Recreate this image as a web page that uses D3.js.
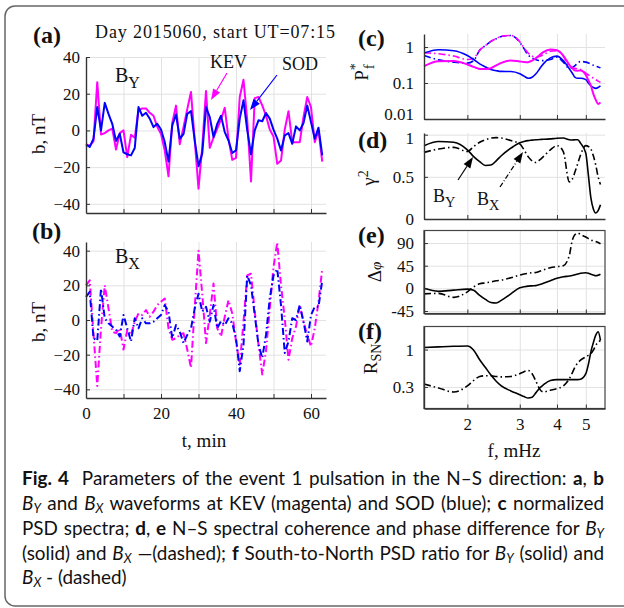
<!DOCTYPE html>
<html lang="en">
<head>
<meta charset="UTF-8">
<title>Event 1 pulsation</title>
<script src="https://cdn.jsdelivr.net/npm/d3@7/dist/d3.min.js"></script>
<style>
    body { margin: 0; background: #fff; }
    text { font-family: "Liberation Serif", "Times New Roman", serif; fill: #111; }
    .cap text { font-family: Lato, "Open Sans", sans-serif; }
</style>
</head>
<body>
<script>
    // waveforms, one sample per minute
    var minutes = d3.range(0, 64);
    var byKEV = [-7.5, -8.5, -5.8, 26.3, -2.2, -1.5, 0, 1, -10.4, -1.5, 0, -14.5, -2.4, -4, 11, 12,
        12, 9.6, 8, 2, -2, -11, -25, 4, 13.5, -7.5, 1.8, 11.6, 20.9, -5.5, -31.8, -9,
        21.5, -9.5, -4, 1, 6, 12.3, -4.5, -16, -15, 18.2, 27.6, 5.5, -27.8, 17.6, 18.2, 13.6,
        8, 0.5, -3.3, -18.2, -16.4, 0.5, 10.5, -6.4, -6.4, -6.4, 7.3, 18.2, 12.7, -6.4, 0, -17];
    var bySOD = [-7.8, -9, -4.5, 12.7, 0, 15, 9, 3.6, -5.8, -1.8, -12, -13, -13.6, -9.6, 12.7, 8,
        9.6, 6.4, 1.8, 3.6, 0.5, -6.4, -17, 2.7, 8.7, -4.5, -2, 9, 10.5, -5.5, -19.5, -12.5,
        12.7, 7.3, -3.6, 3.6, 8, -0.9, -5.5, -12.3, -10.9, 6.4, 16.4, 0, -13, 0, 5.5, 5,
        9.5, 6.4, 0.4, -4.5, -10.9, -2.7, -1.5, -7.3, 2.2, 0, 4, 13.6, 4.5, -4.5, 1.5, -13.6];
    var bxKEV = [20, 22.9, -8, -38, -5, 20, 6.7, -6.7, -7.6, -4.8, -17, -5.7, -8.6, -1, 3.8, 2.9,
        5.7, 1.9, 4.8, 8.6, 10.5, 12.4, -4.8, -11.4, -10.5, -8.6, -7.6, -17, -27.6, 7.6, 40, 15,
        -13.3, 2.9, 21, -4.8, -9.5, 1.9, 11.4, 3.8, -12.4, -25.7, -1, 25.7, 26.7, 4.8, -14.3, -31.4,
        -18, 6.7, 30.5, 44.8, 20, 1, -22.9, -10.5, -3.8, 8.6, -1, -8.6, -15.2, -4.8, 10.5, 29.5];
    var bxSOD = [13.3, 16.2, -10.5, -12, 18, 1, -1.9, -3.8, -5.7, -9.5, 2.9, -4.8, -12.4, 1, -4.8, 1,
        -1.9, -1.9, -1, 1, 2.9, 8.6, 4.8, -10.5, -2.9, -6.7, -13.3, -8.6, -4.8, 6.7, 15.2, 4.8,
        7.6, -1, 8.6, -4.8, -0.6, -2.9, 1, -1.9, -10.5, -29.5, -14.3, 25.7, 20, 2.9, -14.3, -21.9,
        -8.6, 12.4, 25.7, 29.5, 8.6, -19, -12.4, 1, 0, 8.6, -1, -12.4, 2.9, 7.6, 7.6, 22.9];

    // spectra, frequency in mHz
    var freqs = [1.43, 1.6, 1.8, 2.0, 2.1, 2.2, 2.3, 2.4, 2.5, 2.6, 2.8, 3.0, 3.1, 3.2, 3.3, 3.4, 3.5,
        3.6, 3.8, 4.0, 4.2, 4.4, 4.5, 4.6, 4.7, 4.8, 5.0, 5.1, 5.2, 5.3, 5.4, 5.5, 5.6];
    var psdSodY = [0.68, 0.84, 0.79, 0.58, 0.45, 0.34, 0.28, 0.236, 0.22, 0.21, 0.208, 0.18, 0.155, 0.135, 0.145, 0.18, 0.25,
        0.34, 0.5, 0.56, 0.42, 0.25, 0.19, 0.144, 0.135, 0.135, 0.124, 0.1, 0.084, 0.075, 0.071, 0.075, 0.084];
    var psdKevY = [0.293, 0.405, 0.41, 0.327, 0.28, 0.247, 0.245, 0.258, 0.31, 0.364, 0.423, 0.396, 0.385, 0.38, 0.42, 0.49, 0.6,
        0.724, 0.86, 0.81, 0.58, 0.32, 0.26, 0.222, 0.22, 0.222, 0.168, 0.12, 0.084, 0.05, 0.034, 0.026, 0.029];
    var psdSodX = [0.58, 0.44, 0.38, 0.356, 0.42, 0.81, 1.1, 1.44, 1.7, 1.95, 2.08, 1.35, 0.9, 0.6, 0.5, 0.44, 0.42,
        0.42, 0.45, 0.52, 0.38, 0.258, 0.27, 0.306, 0.36, 0.396, 0.38, 0.36, 0.334, 0.31, 0.293, 0.28, 0.263];
    var psdKevX = [0.69, 0.65, 0.56, 0.45, 0.49, 0.81, 1.1, 1.44, 1.7, 1.99, 2.1, 1.4, 0.95, 0.68, 0.56, 0.52, 0.55,
        0.61, 0.76, 0.79, 0.56, 0.293, 0.27, 0.258, 0.245, 0.236, 0.187, 0.168, 0.15, 0.137, 0.124, 0.113, 0.104];
    var cohY = [0.87, 0.92, 0.91, 0.82, 0.74, 0.68, 0.635, 0.64, 0.69, 0.75, 0.84, 0.905, 0.92, 0.93, 0.935, 0.94, 0.943,
        0.945, 0.95, 0.958, 0.96, 0.94, 0.937, 0.94, 0.94, 0.9, 0.78, 0.52, 0.25, 0.12, 0.072, 0.1, 0.168];
    var cohX = [0.79, 0.83, 0.85, 0.80, 0.86, 0.91, 0.94, 0.96, 0.965, 0.96, 0.93, 0.89, 0.82, 0.74, 0.69, 0.67, 0.7,
        0.74, 0.82, 0.87, 0.80, 0.44, 0.47, 0.56, 0.66, 0.76, 0.87, 0.86, 0.83, 0.75, 0.64, 0.5, 0.41];
    var phaseY = [0, -6, -3.5, -1.5, -4, -14, -22, -28, -29, -24, -11, 1, 3, 4.5, 5, 5.5, 7.5,
        10, 15, 20, 23, 24.5, 25.5, 27, 28.5, 30, 31, 30, 28, 26.5, 25, 26, 28];
    var phaseX = [-11, -10, -18, -7, 3, 9, 11, 13, 15, 16.5, 21, 26.5, 28.5, 30, 31, 31.5, 34,
        36.5, 41, 43, 45, 65, 95, 107, 110, 107, 102, 99, 96, 94.5, 93, 91, 88.5];
    var ratioY = [1.07, 1.09, 1.11, 1.12, 0.98, 0.72, 0.56, 0.44, 0.36, 0.31, 0.264, 0.234, 0.22, 0.21, 0.215, 0.25, 0.29,
        0.32, 0.37, 0.38, 0.38, 0.38, 0.38, 0.38, 0.38, 0.385, 0.46, 0.62, 0.93, 1.25, 1.59, 1.77, 1.35];
    var ratioX = [0.33, 0.29, 0.255, 0.31, 0.37, 0.42, 0.43, 0.43, 0.42, 0.415, 0.42, 0.46, 0.49, 0.51, 0.46, 0.36, 0.28,
        0.255, 0.27, 0.285, 0.31, 0.39, 0.47, 0.57, 0.65, 0.71, 0.79, 0.83, 0.88, 0.98, 1.15, 1.25, 1.35];

    var magenta = "#ff00ff", blue = "#0000ff";
    var dashDot = "7,3,1.5,3";

    var svg = d3.select("body").append("svg")
        .attr("width", 624)
        .attr("height", 608);

    // outer figure frame
    svg.append("rect")
        .attr("x", 5).attr("y", 6)
        .attr("width", 650).attr("height", 600)
        .attr("rx", 10)
        .attr("fill", "none")
        .attr("stroke", "#666")
        .attr("stroke-width", 1.5);

    var xT = d3.scaleLinear().domain([0, 64]).range([86, 326]);
    var yA = d3.scaleLinear().domain([-45, 40]).range([213, 57]);
    var yB = d3.scaleLinear().domain([-45, 45]).range([398, 242]);

    var xF = d3.scaleLog().domain([1.43, 5.8]).range([424, 605]);
    var yC = d3.scaleLog().domain([0.01, 2.3]).range([119, 34]);
    var yD = d3.scaleLinear().domain([0, 1.02]).range([219, 133]);
    var yE = d3.scaleLinear().domain([-50, 115]).range([313.5, 230.5]);
    var yF = d3.scaleLog().domain([0.15, 2.1]).range([408.5, 326.5]);

    function panel(x, y, xt, yt, xfmt, yfmt, boxed) {
        var g = svg.append("g");
        var x0 = x.range()[0], x1 = x.range()[1];
        var y0 = y.range()[0], y1 = y.range()[1];
        // grid
        g.append("g")
            .attr("transform", "translate(0," + y0 + ")")
            .call(d3.axisBottom(x).tickValues(xt).tickSize(y1 - y0).tickFormat(""))
            .call(function (s) { s.select(".domain").remove(); s.selectAll("line").attr("stroke", "#e2e2e2"); });
        g.append("g")
            .attr("transform", "translate(" + x0 + ",0)")
            .call(d3.axisLeft(y).tickValues(yt).tickSize(x0 - x1).tickFormat(""))
            .call(function (s) { s.select(".domain").remove(); s.selectAll("line").attr("stroke", "#e2e2e2"); });
        if (boxed) {
            g.append("rect")
                .attr("x", x0).attr("y", y1)
                .attr("width", x1 - x0).attr("height", y0 - y1)
                .attr("fill", "none").attr("stroke", "#444").attr("stroke-width", 1.2);
        }
        var lines = svg.append("g");
        var ax = svg.append("g");
        ax.append("g")
            .attr("transform", "translate(0," + y0 + ")")
            .call(d3.axisBottom(x).tickValues(xt).tickSizeInner(-4).tickSizeOuter(0).tickPadding(9).tickFormat(xfmt))
            .call(styleAxis);
        ax.append("g")
            .attr("class", "yaxis")
            .attr("transform", "translate(" + x0 + ",0)")
            .call(d3.axisLeft(y).tickValues(yt).tickSizeInner(-4).tickSizeOuter(0).tickPadding(yfmt.pad).tickFormat(yfmt.f))
            .call(styleAxis);
        lines.axis = ax;
        return lines;
    }

    function styleAxis(s) {
        s.select(".domain").attr("stroke", "#333").attr("stroke-width", 1.4);
        s.selectAll(".tick line").attr("stroke", "#333");
        s.selectAll(".tick text")
            .attr("font-family", '"Liberation Serif", serif')
            .attr("font-size", 17)
            .attr("fill", "#111");
    }

    function series(g, xs, ys, x, y, color, dash, width, curve) {
        g.append("path")
            .datum(ys)
            .attr("fill", "none")
            .attr("stroke", color)
            .attr("stroke-width", width)
            .attr("stroke-dasharray", dash)
            .attr("stroke-linejoin", "round")
            .attr("d", d3.line()
                .curve(curve)
                .x(function (d, i) { return x(xs[i]); })
                .y(function (d) { return y(d); }));
    }

    var tTicks = [0, 10, 20, 30, 40, 50, 60];
    var noLabel = function () { return ""; };
    var tLabel = function (d) { return d % 20 === 0 ? d : ""; };
    var plain = function (d) { return d; };

    // (a) BY waveforms
    var gA = panel(xT, yA, tTicks, [-40, -20, 0, 20, 40], noLabel, {f: d3.format("d"), pad: 6});
    series(gA, minutes, byKEV, xT, yA, magenta, null, 2, d3.curveLinear);
    series(gA, minutes, bySOD, xT, yA, blue, null, 2, d3.curveLinear);

    // (b) BX waveforms
    var gB = panel(xT, yB, tTicks, [-40, -20, 0, 20, 40], tLabel, {f: d3.format("d"), pad: 6});
    series(gB, minutes, bxKEV, xT, yB, magenta, dashDot, 2, d3.curveLinear);
    series(gB, minutes, bxSOD, xT, yB, blue, dashDot, 2, d3.curveLinear);

    var fTicks = [2, 3, 4, 5];
    var smooth = d3.curveMonotoneX;

    // (c) normalized PSD
    var gC = panel(xF, yC, fTicks, [0.01, 0.1, 1], noLabel, {f: plain, pad: 10});
    series(gC, freqs, psdSodX, xF, yC, blue, dashDot, 1.6, smooth);
    series(gC, freqs, psdKevX, xF, yC, magenta, dashDot, 1.6, smooth);
    series(gC, freqs, psdSodY, xF, yC, blue, null, 1.6, smooth);
    series(gC, freqs, psdKevY, xF, yC, magenta, null, 2, smooth);
    // lift the bottom label a little so it clears panel (d)
    gC.axis.select(".yaxis").selectAll(".tick text")
        .filter(function (d) { return d === 0.01; })
        .attr("dy", "0.05em");

    // (d) coherence
    var gD = panel(xF, yD, fTicks, [0, 0.5, 1], noLabel, {f: plain, pad: 10});
    series(gD, freqs, cohX, xF, yD, "#000", dashDot, 1.6, smooth);
    series(gD, freqs, cohY, xF, yD, "#000", null, 1.6, smooth);
    gD.axis.select(".yaxis").selectAll(".tick text")
        .filter(function (d) { return d === 1; })
        .attr("dy", "0.5em");

    // (e) phase difference
    var gE = panel(xF, yE, fTicks, [-45, 0, 45, 90], noLabel, {f: plain, pad: 10}, true);
    series(gE, freqs, phaseX, xF, yE, "#000", dashDot, 1.6, smooth);
    series(gE, freqs, phaseY, xF, yE, "#000", null, 1.6, smooth);

    // (f) south-to-north ratio
    var gF = panel(xF, yF, fTicks, [0.3, 1], plain, {f: plain, pad: 10}, true);
    series(gF, freqs, ratioX, xF, yF, "#000", dashDot, 1.6, smooth);
    series(gF, freqs, ratioY, xF, yF, "#000", null, 1.6, smooth);

    // text labels
    function label(x, y, str, size, weight) {
        return svg.append("text")
            .attr("x", x).attr("y", y)
            .attr("font-size", size)
            .attr("font-weight", weight || "normal")
            .text(str);
    }
    function subLabel(x, y, main, sub, size) {
        var t = svg.append("text").attr("x", x).attr("y", y).attr("font-size", size);
        t.append("tspan").text(main);
        t.append("tspan").attr("dy", size * 0.3).attr("font-size", size * 0.8).text(sub);
        return t;
    }

    label(33, 43, "(a)", 24, "bold");
    label(32, 239, "(b)", 24, "bold");
    label(358, 46, "(c)", 24, "bold");
    label(358, 148, "(d)", 24, "bold");
    label(358, 243, "(e)", 24, "bold");
    label(358, 339, "(f)", 24, "bold");

    label(95, 38, "Day 2015060, start UT=07:15", 18).attr("textLength", 240);
    subLabel(115, 82, "B", "Y", 20);
    subLabel(115, 263, "B", "X", 20);
    label(210, 68, "KEV", 18);
    label(282, 70, "SOD", 18);
    subLabel(433, 202, "B", "Y", 18);
    subLabel(477, 205, "B", "X", 18);

    label(204, 447, "t, min", 19).attr("text-anchor", "middle");
    label(514, 457, "f, mHz", 19).attr("text-anchor", "middle");

    function vLabel(x, y) {
        return svg.append("text")
            .attr("transform", "translate(" + x + "," + y + ") rotate(-90)")
            .attr("text-anchor", "middle")
            .attr("font-size", 19);
    }
    vLabel(45, 134).text("b, nT");
    vLabel(45, 322).text("b, nT");

    var pf = vLabel(368, 72);
    pf.append("tspan").text("P");
    pf.append("tspan").attr("dy", -8).attr("font-size", 14).text("*");
    pf.append("tspan").attr("dx", -6).attr("dy", 14).attr("font-size", 15).text("f");

    var gm = vLabel(375, 178);
    gm.append("tspan").text("\u03b3");
    gm.append("tspan").attr("dy", -7).attr("font-size", 14).text("2");

    var dp = vLabel(381, 272);
    dp.append("tspan").text("\u0394");
    dp.append("tspan").attr("font-style", "italic").attr("font-size", 15).text("\u03c6");

    var rs = vLabel(377, 359);
    rs.append("tspan").text("R");
    rs.append("tspan").attr("dy", 4).attr("font-size", 14).text("SN");

    // arrows
    function arrow(x1, y1, x2, y2, color, dash, w) {
        var ang = Math.atan2(y2 - y1, x2 - x1), len = 11, half = 4;
        var bx = x2 - len * Math.cos(ang), by = y2 - len * Math.sin(ang);
        svg.append("line")
            .attr("x1", x1).attr("y1", y1).attr("x2", bx).attr("y2", by)
            .attr("stroke", color).attr("stroke-width", w).attr("stroke-dasharray", dash);
        svg.append("polygon")
            .attr("points", [
                [x2, y2],
                [bx + half * Math.sin(ang), by - half * Math.cos(ang)],
                [bx - half * Math.sin(ang), by + half * Math.cos(ang)]
            ].map(function (p) { return p.join(","); }).join(" "))
            .attr("fill", color);
    }
    arrow(227, 73, 211, 100, magenta, null, 1.2);
    arrow(277, 75, 250, 110, blue, null, 1.2);
    arrow(458, 180, 473, 157, "#000", null, 1.2);
    arrow(500, 187, 523, 152, "#000", "5,2,1,2", 1.2);

    // caption
    var captionRuns = [
        [["Fig. 4", "b"], ["  Parameters of the event 1 pulsation in the N\u2013S direction: ", ""], ["a", "b"], [", ", ""], ["b", "b"]],
        [["B", "i"], ["Y", "s"], [" and ", ""], ["B", "i"], ["X", "s"], [" waveforms at KEV (magenta) and SOD (blue); ", ""], ["c", "b"], [" normalized", ""]],
        [["PSD spectra; ", ""], ["d", "b"], [", ", ""], ["e", "b"], [" N\u2013S spectral coherence and phase difference for ", ""], ["B", "i"], ["Y", "s"]],
        [["(solid) and ", ""], ["B", "i"], ["X", "s"], [" \u2014(dashed); ", ""], ["f", "b"], [" South-to-North PSD ratio for ", ""], ["B", "i"], ["Y", "s"], [" (solid) and", ""]],
        [["B", "i"], ["X", "s"], [" - (dashed)", ""]]
    ];
    var capBase = [485, 510, 535, 560, 584];
    var capTarget = 582;
    var cap = svg.append("g").attr("class", "cap");
    var capTexts = captionRuns.map(function (runs, li) {
        var t = cap.append("text")
            .attr("x", 22).attr("y", capBase[li])
            .attr("font-size", 16)
            .attr("fill", "#222")
            .attr("xml:space", "preserve");
        var shifted = false;
        runs.forEach(function (r) {
            var sp = t.append("tspan").text(r[0]);
            if (r[1] === "b") sp.attr("font-weight", "bold");
            if (r[1] === "i") sp.attr("font-style", "italic");
            if (r[1] === "s") { sp.attr("class", "sub").attr("font-style", "italic").attr("dy", 3); shifted = true; }
            else if (shifted) { sp.attr("dy", -3); shifted = false; }
        });
        return t;
    });
    // size the font so the widest justified line just fits, then justify with word spacing
    var widest = d3.max(capTexts.slice(0, 4), function (t) { return t.node().getComputedTextLength(); });
    var capSize = 16 * (capTarget - 4) / widest;
    capTexts.forEach(function (t, li) {
        t.attr("font-size", capSize);
        t.selectAll(".sub").attr("font-size", capSize * 0.68);
        if (li < 4) {
            var w = t.node().getComputedTextLength();
            var spaces = t.text().split(" ").length - 1;
            t.attr("word-spacing", Math.max(0, capTarget - w) / spaces);
        }
    });
</script>
</body>
</html>
